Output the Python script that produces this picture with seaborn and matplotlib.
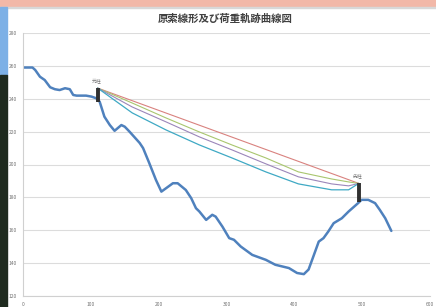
import numpy as np
import pandas as pd
import seaborn as sns
import matplotlib.pyplot as plt
from matplotlib.patches import Rectangle

# terrain profile (ground line)
terrain_x = [0, 14, 18, 25, 32, 40, 47, 54, 62, 69, 74, 79, 93, 101, 108, 113,
             120, 128, 135, 145, 150, 157, 172, 177, 186, 196, 204, 211, 221, 228,
             240, 248, 255, 260, 270, 279, 284, 294, 304, 311, 321, 338, 358, 372,
             392, 404, 414, 421, 428, 436, 443, 450, 458, 470, 480, 494, 499, 509,
             519, 526, 534, 543]
terrain_y = [259, 259, 257.5, 253.4, 251.4, 247, 245.8, 245.3, 246.4, 245.8, 242.3,
             241.9, 241.9, 241.3, 240.3, 238.2, 229.1, 224, 220.5, 224, 223, 220,
             213.1, 210, 201, 190.6, 183.5, 185.6, 188.6, 188.6, 184.5, 179.5, 173.4,
             171.4, 166.3, 169.4, 168.3, 162.2, 155.2, 154.2, 150.1, 145, 142, 139,
             137, 134, 133.3, 136.1, 144, 153.1, 155.2, 159.2, 164.3, 167.3, 171.4,
             176.5, 178.5, 178.5, 176.5, 172.4, 167.3, 159.6]

# supports
tower_x = [110, 495]
tower_base = [238.2, 177.4]
tower_top = [246.5, 188.5]
tower_names = ["元柱", "先柱"]

# chord and load trajectory curves
chord_x = [110, 495]
chord_y = [246.5, 188.5]
cable_x = [110, 161, 211, 260, 308, 358, 406, 455, 480, 495]
curve_green = [246.5, 237.4, 228.3, 219.8, 211.9, 204.0, 195.5, 191.2, 189.4, 188.5]
curve_purple = [246.5, 235.0, 225.9, 216.8, 208.9, 200.4, 192.5, 188.2, 187.0, 188.5]
curve_teal = [246.5, 231.4, 221.0, 211.9, 204.0, 195.5, 188.2, 184.6, 184.6, 188.5]

x_ticks = [0, 100, 200, 300, 400, 500, 600]
y_ticks = [120, 140, 160, 180, 200, 220, 240, 260, 280]
title = "原索線形及び荷重軌跡曲線図"

sns.set_style("white")
plt.rcParams['font.family'] = ['Noto Sans CJK JP', 'DejaVu Sans']

fig = plt.figure(figsize=(4.36, 3.07), dpi=100)
fig.patch.set_facecolor("white")

# screenshot frame: top bar and left strip
fig.patches.append(Rectangle((0, 1 - 7 / 307), 1, 7 / 307, transform=fig.transFigure,
                             color="#F2B8A8", zorder=0))
fig.patches.append(Rectangle((0, 1 - 8 / 307), 1, 1 / 307, transform=fig.transFigure,
                             color="#D8D8D8", zorder=0))
fig.patches.append(Rectangle((0, 1 - 75 / 307), 7 / 436, 68 / 307, transform=fig.transFigure,
                             color="#7DB0E6", zorder=0))
fig.patches.append(Rectangle((0, 0), 7 / 436, 1 - 75 / 307, transform=fig.transFigure,
                             color="#1F2B1F", zorder=0))

ax = fig.add_axes([23 / 436, 1 - 296 / 307, (430 - 23) / 436, (296 - 33) / 307])

curves = pd.DataFrame({"x": cable_x, "green": curve_green,
                       "purple": curve_purple, "teal": curve_teal})
sns.lineplot(x=chord_x, y=chord_y, ax=ax, color="#D9827F", lw=0.8)
sns.lineplot(data=curves, x="x", y="green", ax=ax, color="#A9C66E", lw=0.8, sort=False)
sns.lineplot(data=curves, x="x", y="purple", ax=ax, color="#9B86BA", lw=0.8, sort=False)
sns.lineplot(data=curves, x="x", y="teal", ax=ax, color="#3FA9C4", lw=0.9, sort=False)
sns.lineplot(x=terrain_x, y=terrain_y, ax=ax, color="#4F81BD", lw=1.8, sort=False)

for tx, b, t, name in zip(tower_x, tower_base, tower_top, tower_names):
    ax.plot([tx, tx], [b, t], color="#303030", lw=2.8, solid_capstyle="butt", zorder=5)
    ax.text(tx - 2, t + 3, name, fontsize=3.5, color="#707070", ha="center", va="bottom")

ax.set_xlim(0, 600)
ax.set_ylim(120, 280)
ax.set_xticks(x_ticks)
ax.set_yticks(y_ticks)
ax.set_xticklabels([str(v) for v in x_ticks])
ax.set_yticklabels([str(v) for v in y_ticks])
ax.tick_params(labelsize=3.5, colors="#707070", length=1.5, width=0.5, pad=3)
ax.set_xlabel("")
ax.set_ylabel("")
ax.grid(axis="y", color="#DCDCDC", lw=0.8)
ax.set_axisbelow(True)
for side in ["top", "right"]:
    ax.spines[side].set_visible(False)
for side in ["left", "bottom"]:
    ax.spines[side].set_color("#D0D0D0")
    ax.spines[side].set_linewidth(0.8)

fig.text(0.516, 1 - 19 / 307, title, ha="center", va="center",
         fontsize=7.5, fontweight="bold", color="#404040")

fig.savefig("out.png", dpi=100)
